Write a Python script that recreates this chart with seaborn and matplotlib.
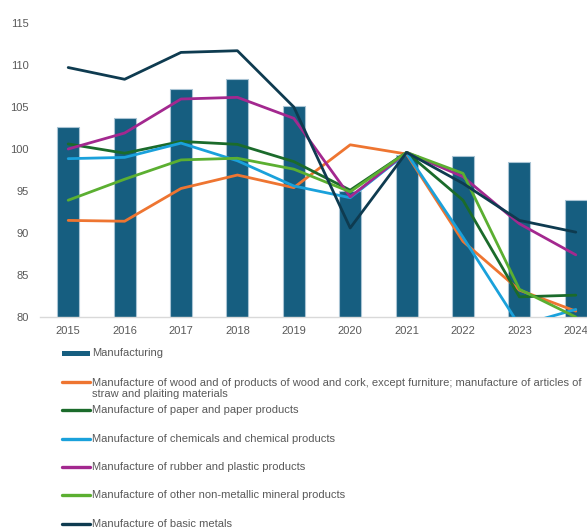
import matplotlib
matplotlib.use("Agg")
import matplotlib.pyplot as plt
import seaborn as sns
import pandas as pd
from matplotlib.lines import Line2D
from matplotlib.patches import Rectangle

# Production index by year
years = [2015, 2016, 2017, 2018, 2019, 2020, 2021, 2022, 2023, 2024]
manufacturing = [102.6, 103.7, 107.1, 108.3, 105.1, 95.0, 99.3, 99.2, 98.5, 93.9]
wood = [91.5, 91.4, 95.3, 96.9, 95.4, 100.5, 99.4, 89.0, 83.2, 80.7]
paper = [100.6, 99.5, 100.9, 100.55, 98.5, 95.1, 99.6, 93.9, 82.4, 82.6]
chemicals = [98.85, 99.0, 100.7, 98.6, 95.6, 94.2, 99.5, 89.5, 79.0, 80.9]
rubber = [100.0, 101.9, 105.95, 106.15, 103.65, 94.3, 99.6, 96.7, 91.1, 87.4]
non_metallic = [93.9, 96.4, 98.7, 98.9, 97.6, 94.9, 99.6, 97.1, 83.3, 80.0]
basic_metals = [109.7, 108.3, 111.5, 111.7, 105.0, 90.6, 99.6, 95.9, 91.5, 90.1]

label_manufacturing = "Manufacturing"
line_labels = [
    "Manufacture of wood and of products of wood and cork, except furniture; manufacture of articles of\nstraw and plaiting materials",
    "Manufacture of paper and paper products",
    "Manufacture of chemicals and chemical products",
    "Manufacture of rubber and plastic products",
    "Manufacture of other non-metallic mineral products",
    "Manufacture of basic metals",
]
line_values = [wood, paper, chemicals, rubber, non_metallic, basic_metals]

bar_color = "#165E80"
line_colors = ["#EE7531", "#1B6B2B", "#1AA1DB", "#A3288F", "#5BAF31", "#0E3B50"]
text_color = "#595959"

sns.set_theme(style="white")
plt.rcParams["font.family"] = ["Liberation Sans", "DejaVu Sans"]

W, H = 587, 530
fig = plt.figure(figsize=(W / 100, H / 100), dpi=100)
ax = fig.add_axes([40 / W, 1 - 317 / H, 564 / W, 294 / H])

bars = pd.DataFrame({"year": years, "index": manufacturing})
sns.barplot(data=bars, x="year", y="index", native_scale=True, width=0.39,
            color=bar_color, saturation=1, edgecolor="#A9C4D4", linewidth=0.8,
            ax=ax, zorder=1)

rows = []
for name, vals in zip(line_labels, line_values):
    for y, v in zip(years, vals):
        rows.append({"year": y, "index": v, "series": name})
lines = pd.DataFrame(rows)
sns.lineplot(data=lines, x="year", y="index", hue="series", hue_order=line_labels,
             palette=dict(zip(line_labels, line_colors)), linewidth=2.0,
             legend=False, ax=ax, zorder=3)

ax.set_xlim(2014.5, 2024.5)
ax.set_ylim(80, 115)
ax.set_xticks(years)
ax.set_xticklabels([str(y) for y in years])
ax.set_yticks(range(80, 116, 5))
ax.set_xlabel("")
ax.set_ylabel("")
for side in ["left", "top", "right"]:
    ax.spines[side].set_visible(False)
ax.spines["bottom"].set_color("#D9D9D9")
ax.spines["bottom"].set_linewidth(1.0)
ax.tick_params(axis="both", length=0, labelcolor=text_color, labelsize=8.0)
ax.tick_params(axis="y", pad=8)
ax.tick_params(axis="x", pad=6.5)
ax.grid(False)


def fy(py):
    return 1 - py / H


def fx(px):
    return px / W


# Legend listed down the lower part of the figure
x0, x1, xt = 62, 90, 92
row_y = [353, 382, 410, 439, 467, 495, 524]
fs = 8.0
fig.add_artist(Rectangle((fx(x0), fy(row_y[0] + 2.5)), fx(x1) - fx(x0), 5 / H,
                         transform=fig.transFigure, color=bar_color, lw=0))
fig.text(fx(xt), fy(row_y[0]), label_manufacturing, ha="left", va="center",
         fontsize=fs, color=text_color)
for i, (name, col) in enumerate(zip(line_labels, line_colors)):
    yy = row_y[i + 1]
    fig.add_artist(Line2D([fx(x0), fx(x1)], [fy(yy), fy(yy)],
                          transform=fig.transFigure, color=col, lw=2.4,
                          solid_capstyle="round"))
    if "\n" in name:
        fig.text(fx(xt), fy(yy + 6.5), name, ha="left", va="center",
                 fontsize=fs, color=text_color, linespacing=1.12)
    else:
        fig.text(fx(xt), fy(yy), name, ha="left", va="center",
                 fontsize=fs, color=text_color)

fig.savefig("out.png", dpi=100)
